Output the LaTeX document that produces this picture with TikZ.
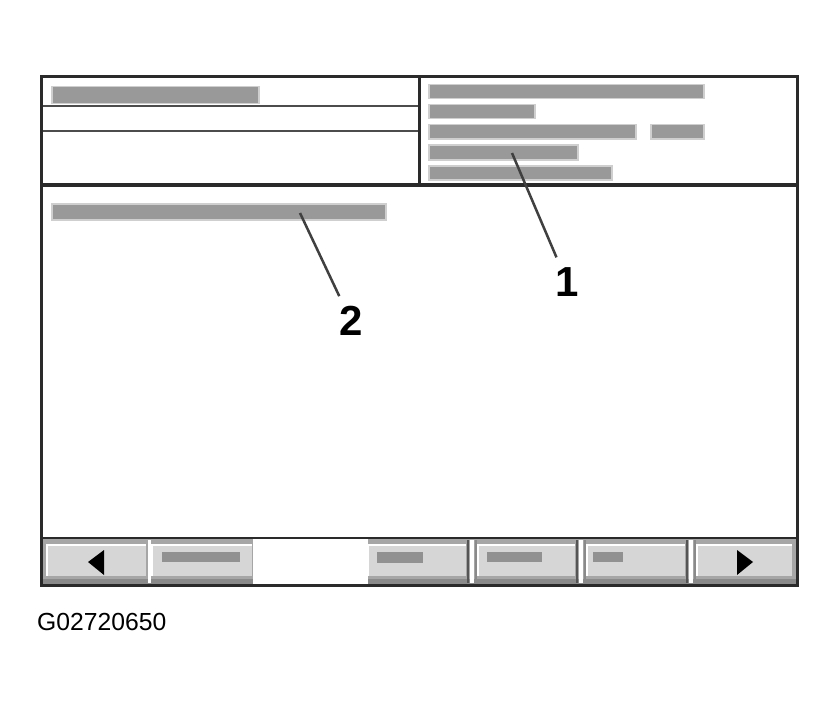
\documentclass[tikz,border=0pt]{standalone}
\usepackage{fontspec}
\setmainfont{Liberation Sans}
\definecolor{framec}{HTML}{2A2A2A}
\definecolor{barc}{HTML}{999999}
\definecolor{barrim}{HTML}{CFCFCF}
\definecolor{btnface}{HTML}{D6D6D6}
\definecolor{btnbg}{HTML}{A6A6A6}
\definecolor{btndark}{HTML}{8A8A8A}
\definecolor{sepdark}{HTML}{555555}
\begin{document}
\begin{tikzpicture}[x=1pt,y=-1pt,
  bar/.style={fill=barc,draw=barrim,line width=1.5pt,inner sep=0pt,anchor=north west,minimum height=14pt},
  btnbar/.style={fill=barc!95!black,inner sep=0pt,anchor=north west,minimum height=10pt},
  btn/.style={fill=btnface,inner sep=0pt,minimum height=31pt},
  leader/.style={draw=black!75,line width=2.5pt},
  callout/.style={font=\fontsize{42}{44}\selectfont\bfseries,inner sep=10pt},
  thinline/.style={draw=black!70,line width=2pt},
  frameline/.style={draw=framec,line width=3pt}]
\useasboundingbox[fill=white] (0,0) rectangle (840,706);

% header bars, left panel
\node[bar,minimum width=207pt,minimum height=17pt] (tl) at (51,86) {};
% header bars, right panel
\node[bar,minimum width=275pt] (r1) at (428,84) {};
\node[bar,minimum width=106pt] (r2) at (428,104) {};
\node[bar,minimum width=207pt] (r3a) at (428,124) {};
\node[bar,minimum width=53pt] (r3b) at (650,124) {};
\node[bar,minimum width=149pt,minimum height=15pt] (r4) at (428,144) {};
\node[bar,minimum width=183pt] (r5) at (428,165) {};
% main area bar
\node[bar,minimum width=334pt,minimum height=16pt] (mb) at (51,203) {};

% header lines
\draw[thinline] (41,106) -- (419,106);
\draw[thinline] (41,131) -- (419,131);
\draw[frameline] (419,77) -- (419,185);
\draw[draw=framec,line width=4pt] (41,185) -- (797,185);

% bottom button bar
\fill[btnbg] (42,539) rectangle (796,584);
\fill[btndark] (42,579) rectangle (796,584);
\fill[white] (253,539) rectangle (368,584);
\node[btn,minimum width=99pt] (b1) at (96.5,560.5) {};
\node[btn,minimum width=100pt] (b2) at (202,560.5) {};
\node[btn,minimum width=98pt] (b3) at (417,560.5) {};
\node[btn,minimum width=97pt] (b4) at (526.5,560.5) {};
\node[btn,minimum width=98pt] (b5) at (636,560.5) {};
\node[btn,minimum width=95pt] (b6) at (744.5,560.5) {};
\foreach \b in {b1,b2,b3,b4,b5,b6}{
  \draw[white,line width=1.5pt] (\b.south west) -- (\b.north west) -- (\b.north east);
}
% separators
\draw[white,line width=3pt] (149,540) -- (149,583);
\foreach \xd/\xw/\xg in {468/472/476,577/581/585,687/691/695}{
  \draw[sepdark,line width=2.5pt] (\xd,540) -- (\xd,583);
  \draw[white,line width=3.5pt] (\xw,540) -- (\xw,583);
  \draw[btndark,line width=2pt] (\xg,540) -- (\xg,583);
}
% button labels (bars) and arrows
\node[btnbar,minimum width=78pt] (b2t) at (162,552) {};
\node[btnbar,minimum width=46pt,minimum height=11pt] (b3t) at (377,552) {};
\node[btnbar,minimum width=55pt] (b4t) at (487,552) {};
\node[btnbar,minimum width=30pt] (b5t) at (593,552) {};
\fill[black] (88,562) -- (104,550) -- (104,575) -- cycle;
\fill[black] (753,562) -- (737,550) -- (737,575) -- cycle;
\draw[draw=framec,line width=2.5pt] (41,538) -- (797,538);

% outer frame
\draw[frameline] (41,77) rectangle (797,585);

% callouts
\coordinate (c1) at (512,153);
\coordinate (c2) at (300,213);
\node[callout] (lab1) at (567,282) {1};
\node[callout] (lab2) at (351,321) {2};
\draw[leader] (c1) -- (lab1);
\draw[leader] (c2) -- (lab2);

% figure code
\node[anchor=base west,inner sep=0pt,font=\fontsize{24.7}{30}\selectfont] (code) at (37,630) {G02720650};
\end{tikzpicture}
\end{document}
